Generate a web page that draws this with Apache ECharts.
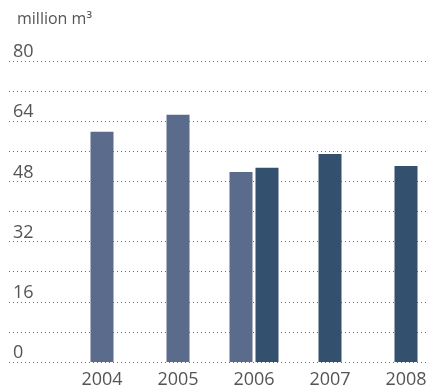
<!DOCTYPE html>
<html>
<head>
<meta charset="utf-8">
<script src="https://cdn.jsdelivr.net/npm/echarts@6/dist/echarts.min.js"></script>
<style>
  html, body { margin: 0; padding: 0; background: #fff; }
  #chart { width: 427px; height: 391px; }
</style>
</head>
<body>
<div id="chart"></div>
<script>
// Annual volumes, million m³
const years = ['2004', '2005', '2006', '2007', '2008'];
const lightValues = [61.2, 65.7, 50.5, null, null];
const darkValues = [null, null, 51.6, 55.3, 52.1];
const yTicks = [0, 16, 32, 48, 64, 80];

const LIGHT = '#5b6b8b';
const DARK = '#33506f';
const TEXT = '#555555';
const FONT = 'Open Sans';

// Years carrying both values get a side-by-side pair; the rest get one centred bar.
const isPair = years.map((_, i) => lightValues[i] != null && darkValues[i] != null);
const single = (vals) => vals.map((v, i) => (isPair[i] || v == null) ? null : v);
const paired = (vals) => vals.map((v, i) => isPair[i] ? v : null);

const chart = echarts.init(document.getElementById('chart'), null, { renderer: 'canvas' });

chart.setOption({
  animation: false,
  title: {
    text: 'million m³',
    left: 12, top: 6,
    textStyle: { fontFamily: FONT, fontSize: 16, fontWeight: 'normal', color: TEXT }
  },
  grid: [
    // full-width grid carrying the dotted guide lines and value labels
    { left: 9, right: 0, top: 61, bottom: 29, outerBoundsMode: 'none' },
    // bar grid: 76px per year, starting at x = 64 (runs past the right edge)
    { left: 64, width: 380, top: 61, bottom: 29, outerBoundsMode: 'none' }
  ],
  xAxis: [
    { gridIndex: 0, type: 'value', min: 0, max: 1, show: false },
    {
      gridIndex: 1, type: 'category', data: years,
      axisLine: { show: false }, axisTick: { show: false },
      axisLabel: { fontFamily: FONT, fontSize: 18, color: TEXT, margin: 9 }
    },
    { gridIndex: 1, type: 'category', data: years, show: false }
  ],
  yAxis: [
    {
      gridIndex: 0, type: 'value', min: 0, max: 80, interval: 8,
      axisLine: { show: false }, axisTick: { show: false },
      splitLine: { lineStyle: { color: '#6f6f6f', width: 1, type: [1, 3] } },
      axisLabel: {
        inside: true, margin: 4, align: 'left', verticalAlign: 'bottom',
        fontFamily: FONT, fontSize: 18, color: TEXT,
        formatter: (v) => yTicks.includes(v) ? String(v) : ''
      }
    },
    { gridIndex: 1, type: 'value', min: 0, max: 80, interval: 8, show: false, splitLine: { show: false } }
  ],
  series: [
    {
      type: 'bar', name: 'light', xAxisIndex: 1, yAxisIndex: 1, stack: 'single',
      barWidth: 23, data: single(lightValues), itemStyle: { color: LIGHT }
    },
    {
      type: 'bar', name: 'dark', xAxisIndex: 1, yAxisIndex: 1, stack: 'single',
      barWidth: 23, data: single(darkValues), itemStyle: { color: DARK }
    },
    {
      type: 'bar', name: 'light pair', xAxisIndex: 2, yAxisIndex: 1,
      barWidth: 23, barGap: '13%', data: paired(lightValues), itemStyle: { color: LIGHT }
    },
    {
      type: 'bar', name: 'dark pair', xAxisIndex: 2, yAxisIndex: 1,
      barWidth: 23, barGap: '13%', data: paired(darkValues), itemStyle: { color: DARK }
    }
  ]
});
</script>
</body>
</html>
